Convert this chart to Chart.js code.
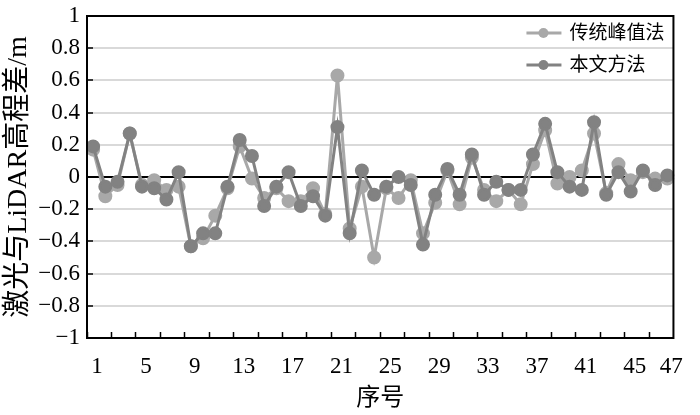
<!DOCTYPE html>
<html>
<head>
<meta charset="utf-8">
<script src="https://cdn.jsdelivr.net/npm/chart.js@4.4.1/dist/chart.umd.min.js"></script>
<style>
  html, body { margin: 0; padding: 0; background: #fff; }
  canvas { display: block; }
</style>
</head>
<body>
<canvas id="chart" width="700" height="415"></canvas>
<script>
// 序号 1..48
const categories = [1, 2, 3, 4, 5, 6, 7, 8, 9, 10, 11, 12, 13, 14, 15, 16,
  17, 18, 19, 20, 21, 22, 23, 24, 25, 26, 27, 28, 29, 30, 31, 32,
  33, 34, 35, 36, 37, 38, 39, 40, 41, 42, 43, 44, 45, 46, 47, 48];

// 传统峰值法
const traditional = [0.17, -0.12, -0.05, 0.27, -0.05, -0.02, -0.08, -0.06,
  -0.43, -0.38, -0.24, -0.07, 0.19, -0.01, -0.13, -0.07,
  -0.15, -0.15, -0.07, -0.23, 0.63, -0.32, -0.06, -0.50,
  -0.07, -0.13, -0.02, -0.35, -0.16, 0.04, -0.17, 0.12,
  -0.08, -0.15, -0.08, -0.17, 0.08, 0.29, -0.04, 0.00,
  0.04, 0.27, -0.10, 0.08, -0.02, 0.03, -0.01, -0.01];

// 本文方法
const proposed = [0.19, -0.06, -0.03, 0.27, -0.06, -0.07, -0.14, 0.03,
  -0.43, -0.35, -0.35, -0.06, 0.23, 0.13, -0.18, -0.06,
  0.03, -0.18, -0.12, -0.24, 0.31, -0.35, 0.04, -0.11,
  -0.06, 0.00, -0.05, -0.42, -0.11, 0.05, -0.11, 0.14,
  -0.11, -0.03, -0.08, -0.08, 0.14, 0.33, 0.03, -0.06,
  -0.08, 0.34, -0.11, 0.03, -0.09, 0.04, -0.05, 0.01];

const seriesNames = ['传统峰值法', '本文方法'];
const lastTickLabel = '47';

const FONT = '"Liberation Serif", "Noto Sans CJK SC", serif';

// frame round the plot area + legend inside it (top right)
const framePlugin = {
  id: 'frame',
  afterDraw(chart) {
    const { ctx, chartArea: a } = chart;
    ctx.save();
    ctx.strokeStyle = '#000';
    ctx.lineWidth = 2;
    ctx.strokeRect(a.left, a.top, a.right - a.left, a.bottom - a.top);

    ctx.font = '19px ' + FONT;
    ctx.textBaseline = 'middle';
    ctx.fillStyle = '#000';
    chart.data.datasets.forEach((ds, i) => {
      const y = a.top + 17 + i * 32;
      ctx.strokeStyle = ds.borderColor;
      ctx.lineWidth = 3;
      ctx.beginPath();
      ctx.moveTo(a.right - 147, y);
      ctx.lineTo(a.right - 112, y);
      ctx.stroke();
      ctx.fillStyle = ds.pointBackgroundColor;
      ctx.beginPath();
      ctx.arc(a.right - 130, y, 5, 0, Math.PI * 2);
      ctx.fill();
      ctx.fillStyle = '#000';
      ctx.fillText(ds.label, a.right - 104, y + 1);
    });
    ctx.restore();
  }
};

new Chart(document.getElementById('chart'), {
  type: 'line',
  data: {
    labels: categories,
    datasets: [
      {
        label: seriesNames[0],
        data: traditional,
        borderColor: '#a8a8a8',
        backgroundColor: '#a8a8a8',
        pointBackgroundColor: '#a8a8a8',
        pointBorderColor: '#a8a8a8',
        borderWidth: 3,
        pointRadius: 5.5,
        order: 1
      },
      {
        label: seriesNames[1],
        data: proposed,
        borderColor: '#828282',
        backgroundColor: '#828282',
        pointBackgroundColor: '#828282',
        pointBorderColor: '#828282',
        borderWidth: 3,
        pointRadius: 5.5,
        order: 0
      }
    ]
  },
  options: {
    responsive: false,
    animation: false,
    devicePixelRatio: 1,
    layout: { padding: { top: 16, right: 16, left: 0, bottom: 0 } },
    plugins: {
      legend: { display: false },
      tooltip: { enabled: false }
    },
    scales: {
      x: {
        type: 'category',
        offset: true,
        grid: {
          offset: true,
          drawOnChartArea: false,
          tickLength: -6,
          tickWidth: 1.5,
          tickColor: (c) => (c.index % 2 === 0 ? '#000' : 'rgba(0,0,0,0)')
        },
        border: { color: '#000', width: 2 },
        ticks: {
          autoSkip: false,
          maxRotation: 0,
          padding: 21,
          labelOffset: 4,
          color: '#000',
          font: { family: FONT, size: 23 },
          callback: (v, i) => {
            if (i === categories.length - 1) return lastTickLabel;
            return i % 4 === 0 ? String(categories[i]) : '';
          }
        },
        title: {
          display: true,
          text: '序号',
          color: '#000',
          font: { family: FONT, size: 24 },
          padding: { top: 0, bottom: 2 }
        },
        afterFit: (s) => { s.height = 77; }
      },
      y: {
        min: -1,
        max: 1,
        grid: {
          color: (c) => (c.tick && c.tick.value === 0 ? '#000' : '#d9d9d9'),
          lineWidth: 2,
          tickLength: -6,
          tickWidth: 1.5,
          tickColor: '#000'
        },
        border: { color: '#000', width: 2 },
        ticks: {
          stepSize: 0.2,
          padding: 13,
          color: '#000',
          font: { family: FONT, size: 23 },
          callback: (v) => String(Math.round(v * 10) / 10).replace('-', '\u2212')
        },
        title: {
          display: true,
          text: '激光与LiDAR高程差/m',
          color: '#000',
          font: { family: FONT, size: 28 },
          padding: { top: 2, bottom: 0 }
        },
        afterFit: (s) => { s.width = 87; s.paddingTop = 0; s.paddingBottom = 0; }
      }
    }
  },
  plugins: [framePlugin]
});
</script>
</body>
</html>
